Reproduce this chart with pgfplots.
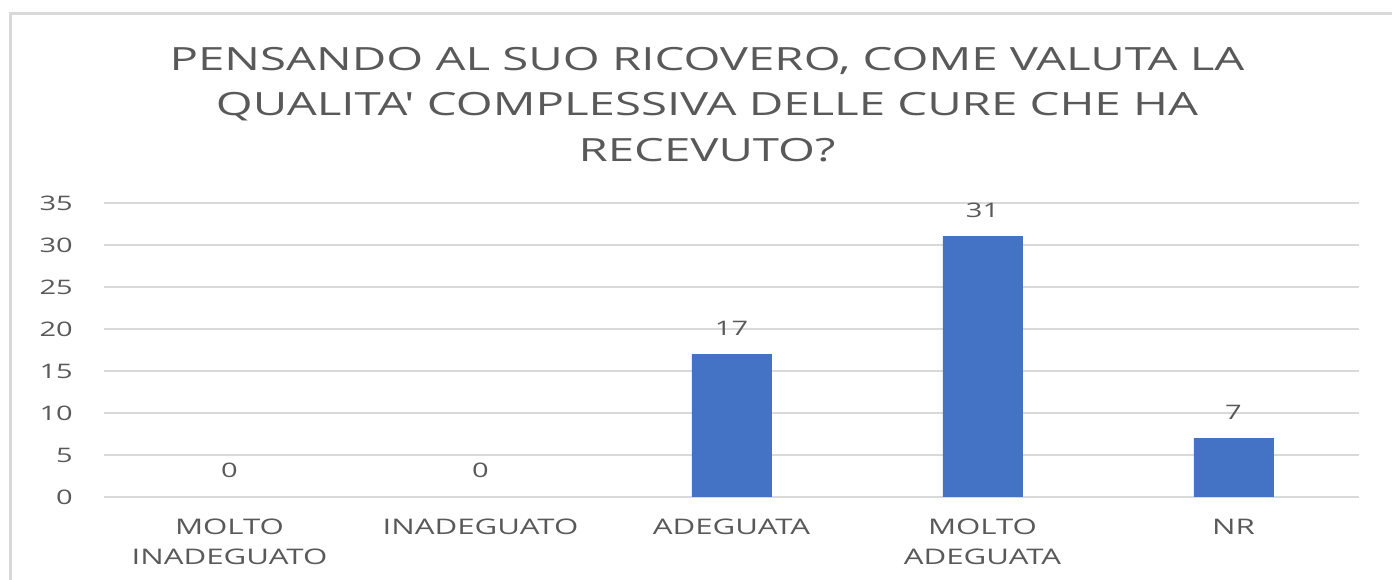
\documentclass[border=0pt]{standalone}
\usepackage{fontspec}
\setmainfont{Open Sans}[FakeStretch=1.45]
\newfontfamily\titlefont{Open Sans}[FakeStretch=1.48, Ligatures=TeXOff]
\usepackage{pgfplots}
\pgfplotsset{compat=1.18}
\definecolor{barblue}{HTML}{4472C4}
\definecolor{txtgray}{HTML}{595959}
\definecolor{gridgray}{HTML}{D9D9D9}
\begin{document}
\begin{tikzpicture}
\useasboundingbox (0,0) rectangle (1392bp,580bp);
\draw[gridgray, line width=3bp] (10bp,0) -- (10bp,566bp) -- (1392bp,566bp);
\node[anchor=base, txtgray, font=\titlefont\fontsize{32bp}{40bp}\selectfont, inner sep=0] at (707bp,509bp) {PENSANDO AL SUO RICOVERO, COME VALUTA LA};
\node[anchor=base, txtgray, font=\titlefont\fontsize{32bp}{40bp}\selectfont, inner sep=0] at (707bp,464bp) {QUALITA' COMPLESSIVA DELLE CURE CHE HA};
\node[anchor=base, txtgray, font=\titlefont\fontsize{32bp}{40bp}\selectfont, inner sep=0] at (707bp,418bp) {RECEVUTO?};
\begin{axis}[
  at={(104bp,83bp)}, anchor=south west,
  scale only axis, width=1255bp, height=294bp,
  xmin=-0.5, xmax=4.5, ymin=0, ymax=35,
  ytick={0,5,...,35},
  xtick={0,1,2,3,4},
  xticklabels={{MOLTO\\INADEGUATO},{INADEGUATO},{ADEGUATA},{MOLTO\\ADEGUATA},{NR}},
  axis line style={draw=none},
  major tick style={draw=none},
  ymajorgrids, major grid style={gridgray, line width=2bp},
  /pgf/number format/assume math mode=true,
  yticklabel style={font=\fontsize{20bp}{30bp}\selectfont, text=txtgray, anchor=east, inner sep=0, xshift=-31bp},
  xticklabel style={font=\fontsize{21.5bp}{30bp}\selectfont, text=txtgray, align=center, anchor=north, inner sep=0, yshift=-22bp},
  nodes near coords,
  every node near coord/.append style={font=\fontsize{20bp}{24bp}\selectfont, text=txtgray, inner sep=0, anchor=south, yshift=19bp},
]
\addplot[ybar, bar width=79bp, fill=barblue, draw=barblue] coordinates {(0,0) (1,0) (2,17) (3,31) (4,7)};
\end{axis}
\end{tikzpicture}
\end{document}
